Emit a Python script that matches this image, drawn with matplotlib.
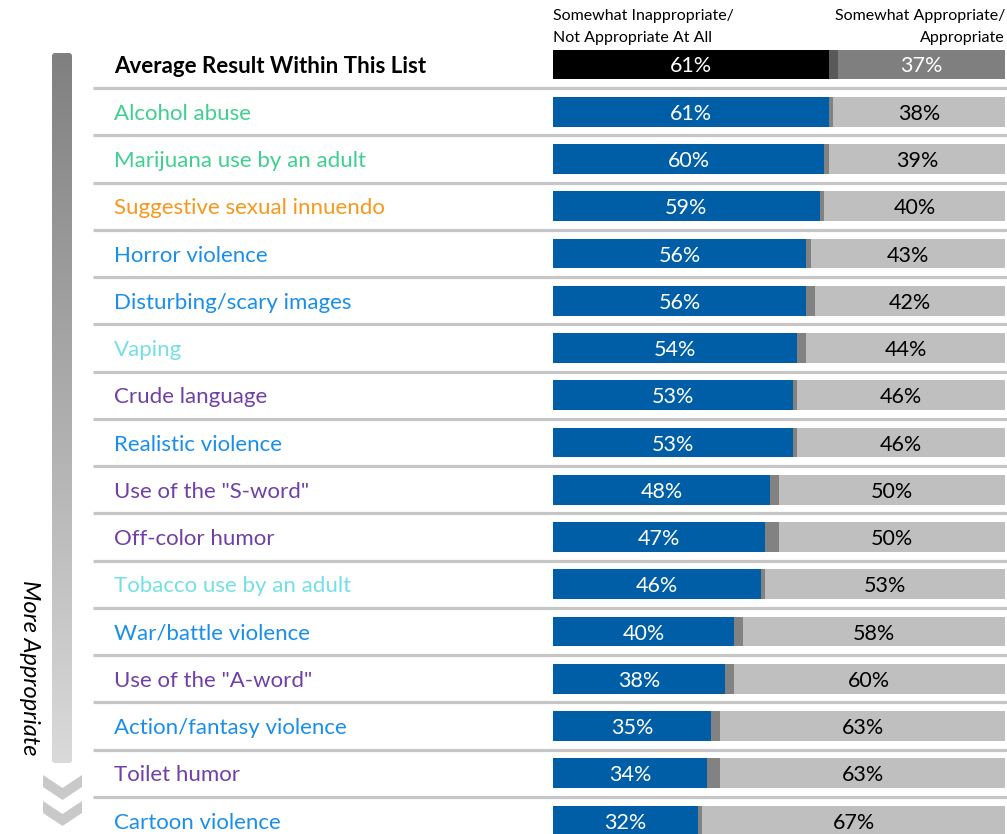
import numpy as np
import matplotlib
matplotlib.use("Agg")
import matplotlib.pyplot as plt
from matplotlib.colors import LinearSegmentedColormap
from matplotlib.patches import FancyBboxPatch, Polygon

plt.rcParams['font.family'] = ['Lato', 'DejaVu Sans']

# ---------------- data ----------------
avg_label = "Average Result Within This List"
avg_inappropriate = 61
avg_appropriate = 37

categories = ["Alcohol abuse", "Marijuana use by an adult", "Suggestive sexual innuendo",
              "Horror violence", "Disturbing/scary images", "Vaping", "Crude language",
              "Realistic violence", 'Use of the "S-word"', "Off-color humor",
              "Tobacco use by an adult", "War/battle violence", 'Use of the "A-word"',
              "Action/fantasy violence", "Toilet humor", "Cartoon violence"]
inappropriate = [61, 60, 59, 56, 56, 54, 53, 53, 48, 47, 46, 40, 38, 35, 34, 32]
appropriate = [38, 39, 40, 43, 42, 44, 46, 46, 50, 50, 53, 58, 60, 63, 63, 67]

GREEN, ORANGE, BLUE, CYAN, PURPLE = "#3fd08f", "#f7981c", "#1a8fea", "#74dfe6", "#7040a6"
label_colors = [GREEN, GREEN, ORANGE, BLUE, BLUE, CYAN, PURPLE, BLUE, PURPLE, PURPLE,
                CYAN, BLUE, PURPLE, BLUE, PURPLE, BLUE]

header_left = ["Somewhat Inappropriate/", "Not Appropriate At All"]
header_right = ["Somewhat Appropriate/", "Appropriate"]
side_label = "More Appropriate"

# ---------------- layout ----------------
W, H = 1007, 834
PX_PER_PCT = 4.52
X0 = 553
ROW0 = 64.5
ROW_STEP = 47.25

def px2x(px):
    return (px - X0) / PX_PER_PCT

def py2row(py):
    return (py - ROW0) / ROW_STEP

fig = plt.figure(figsize=(W / 100, H / 100), dpi=100)

# decoration axes in pixel coordinates
deco = fig.add_axes([0, 0, 1, 1])
deco.set_axis_off()

cmap = LinearSegmentedColormap.from_list("g", ["#808080", "#dadada"])
im = deco.imshow(np.linspace(0, 1, 256).reshape(-1, 1), cmap=cmap,
                 extent=(52, 72, 763, 53), aspect='auto', zorder=1)
clip = FancyBboxPatch((52, 53), 20, 710, boxstyle="round,pad=0,rounding_size=3",
                      transform=deco.transData, facecolor='none', edgecolor='none')
deco.add_patch(clip)
im.set_clip_path(clip)

for off in (0, 26):
    chev = Polygon([(43, 775 + off), (62.5, 788 + off), (82, 775 + off),
                    (82, 787 + off), (62.5, 800 + off), (43, 787 + off)],
                   closed=True, facecolor="#c9c9c9", edgecolor='none')
    deco.add_patch(chev)

deco.text(29, 668, side_label, rotation=-90, ha='center', va='center',
          fontsize=17, style='italic', color='black')

HF = 11.5
deco.text(553, 16, header_left[0], ha='left', va='center', fontsize=HF)
deco.text(553, 38, header_left[1], ha='left', va='center', fontsize=HF)
deco.text(1005, 16, header_right[0], ha='right', va='center', fontsize=HF)
deco.text(1005, 38, header_right[1], ha='right', va='center', fontsize=HF)

deco.set_xlim(0, W)
deco.set_ylim(H, 0)

# data axes: x in percent, y in row index
ax = fig.add_axes([0, 0, 1, 1])
ax.set_axis_off()
ax.patch.set_alpha(0)
ax.set_xlim(px2x(0), px2x(W))
ax.set_ylim(py2row(H), py2row(0))

BH = 0.63
LF = 16
PF = 15.5
# average row
avg_mid = 100 - avg_inappropriate - avg_appropriate
ax.barh(0, avg_inappropriate, left=0, height=BH, color="#000000")
ax.barh(0, avg_mid, left=avg_inappropriate, height=BH, color="#595959")
ax.barh(0, avg_appropriate, left=avg_inappropriate + avg_mid, height=BH, color="#7f7f7f")
ax.text(avg_inappropriate / 2, 0, f"{avg_inappropriate}%", ha='center', va='center_baseline',
        color='white', fontsize=PF)
ax.text(avg_inappropriate + avg_mid + avg_appropriate / 2, 0, f"{avg_appropriate}%",
        ha='center', va='center_baseline', color='white', fontsize=PF)
ax.text(px2x(114), 0, avg_label, ha='left', va='center_baseline', fontsize=LF,
        fontweight='bold', color='black')

rows = np.arange(1, len(categories) + 1)
inap = np.array(inappropriate)
app = np.array(appropriate)
mid = 100 - inap - app
ax.barh(rows, inap, left=0, height=BH, color="#005ea6")
ax.barh(rows, mid, left=inap, height=BH, color="#828282")
ax.barh(rows, app, left=inap + mid, height=BH, color="#bfbfbf")

for r, cat, a, m, b, c in zip(rows, categories, inap, mid, app, label_colors):
    ax.text(px2x(114), r, cat, ha='left', va='center_baseline', fontsize=LF, color=c)
    ax.text(a / 2, r, f"{a}%", ha='center', va='center_baseline', color='white', fontsize=PF)
    ax.text(a + m + b / 2, r, f"{b}%", ha='center', va='center_baseline', color='black', fontsize=PF)

for i in range(len(categories)):
    ax.plot([px2x(93), px2x(W)], [i + 0.5, i + 0.5], color="#c6c6c6", lw=2.3,
            solid_capstyle='butt', zorder=0)

fig.savefig("out.png", dpi=100)
